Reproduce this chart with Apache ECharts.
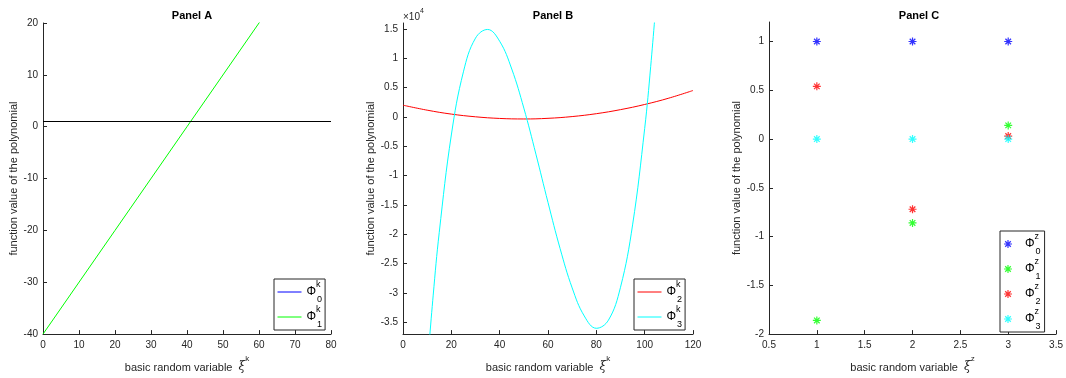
<!DOCTYPE html>
<html>
<head>
<meta charset="utf-8">
<script src="https://cdn.jsdelivr.net/npm/echarts@6/dist/echarts.min.js"></script>
<style>
html,body{margin:0;padding:0;background:#fff;}
#chart{width:1066px;height:378px;}
</style>
</head>
<body>
<div id="chart"></div>
<script>
// ---------- Data ----------
// Panel A
const xiA = [0, 20, 40, 60, 80];
const phi0A = [1, 1, 1, 1, 1];
const phi1A = [-40, -20, 0, 20, 40];
// Panel B
const xiB2 = [0, 10, 20, 30, 40, 50, 60, 70, 80, 90, 100, 110, 120];
const phi2B = [2000, 1150, 480, 20, -260, -350, -240, 60, 550, 1240, 2120, 3200, 4500];
const xiB3 = [10, 12.5, 15, 20, 25, 30, 35, 40, 45, 50, 55, 60, 65, 70, 75, 80, 85, 90, 95, 100, 102.5, 105];
const phi3B = [-42800, -30360, -19660, -3080, 7680, 13420, 14900, 12890, 8160, 1500, -6340, -14570, -22420, -29130, -33910, -36010, -34630, -29020, -18400, -1990, 8625, 20970];
const yTicksB = [-35000, -30000, -25000, -20000, -15000, -10000, -5000, 0, 5000, 10000, 15000];
// Panel C
const xiC = [1, 2, 3];
const phi0C = [1, 1, 1];
const phi1C = [-1.86, -0.86, 0.14];
const phi2C = [0.54, -0.72, 0.03];
const phi3C = [0, 0, 0];
const yTicksC = [-2, -1.5, -1, -0.5, 0, 0.5, 1];

const titles = ['Panel A', 'Panel B', 'Panel C'];
const yName = 'function value of the polynomial';

// ---------- Styling helpers ----------
const TXT = '#262626';
const FONT = 'Liberation Sans, Arial, sans-serif';
const pairs = (xs, ys) => xs.map((x, i) => [x, ys[i]]);
const ASTER = 'path://M0,8.5L20,8.5L20,11.5L0,11.5Z M8.5,0L11.5,0L11.5,20L8.5,20Z M1.9,4.1L4.1,1.9L18.1,15.9L15.9,18.1Z M15.9,1.9L18.1,4.1L4.1,18.1L1.9,15.9Z';

const nameRich = {
  t: {fontSize: 11, fontFamily: FONT, color: TXT, lineHeight: 18, verticalAlign: 'bottom'},
  x: {fontSize: 12, fontFamily: 'DejaVu Serif, serif', fontStyle: 'italic', color: TXT, lineHeight: 18, verticalAlign: 'bottom'},
  s: {fontSize: 8, fontFamily: FONT, color: TXT, lineHeight: 10, verticalAlign: 'top'}
};
const legRich = {
  p: {fontSize: 12, fontFamily: FONT, color: '#000', lineHeight: 24, verticalAlign: 'middle'},
  u: {fontSize: 9, fontFamily: FONT, color: '#000', lineHeight: 13, verticalAlign: 'top', width: 1},
  d: {fontSize: 9, fontFamily: FONT, color: '#000', lineHeight: 13, verticalAlign: 'bottom'}
};

function mkX(gi, min, max, interval, sup) {
  return {
    type: 'value', gridIndex: gi, min: min, max: max, interval: interval,
    name: '{t|basic random variable  }{x|ξ}{s|' + sup + '}',
    nameLocation: 'middle', nameGap: 20,
    nameTextStyle: {rich: nameRich},
    axisLine: {show: true, onZero: false, lineStyle: {color: TXT, width: 1}},
    axisTick: {show: true, inside: true, length: 4, lineStyle: {color: TXT}},
    axisLabel: {color: TXT, fontSize: 10, fontFamily: FONT, margin: 6},
    splitLine: {show: false}
  };
}
function mkY(gi, min, max, extra, gap) {
  const base = {
    type: 'value', gridIndex: gi, min: min, max: max,
    name: yName, nameLocation: 'middle', nameGap: gap,
    nameTextStyle: {color: TXT, fontSize: 11, fontFamily: FONT},
    axisLine: {show: true, onZero: false, lineStyle: {color: TXT, width: 1}},
    axisTick: {show: true, inside: true, length: 4, lineStyle: {color: TXT}},
    axisLabel: {color: TXT, fontSize: 10, fontFamily: FONT, margin: 5},
    splitLine: {show: false}
  };
  Object.keys(extra).forEach(k => {
    const v = extra[k];
    base[k] = (v && typeof v === 'object') ? Object.assign({}, base[k] || {}, v) : v;
  });
  return base;
}

const legendNames = {
  A0: ['0', 'k'], A1: ['1', 'k'], B2: ['2', 'k'], B3: ['3', 'k'],
  C0: ['0', 'z'], C1: ['1', 'z'], C2: ['2', 'z'], C3: ['3', 'z']
};
const legFmt = n => '{p|Φ}{u|' + legendNames[n][1] + '}{d|' + legendNames[n][0] + '}';

function mkLegend(names, left, top, icon, iw, ih, pad, hideSymbol) {
  const lg = {
    orient: 'vertical', left: left, top: top,
    data: names.map(n => icon ? {name: n, icon: icon} : {name: n}),
    itemWidth: iw, itemHeight: ih, itemGap: 1,
    padding: pad,
    lineStyle: {width: 1},
    backgroundColor: '#fff', borderColor: TXT, borderWidth: 1, borderRadius: 0,
    formatter: legFmt,
    textStyle: {rich: legRich},
    selectedMode: false
  };
  if (hideSymbol) lg.itemStyle = {opacity: 0};
  return lg;
}

const chart = echarts.init(document.getElementById('chart'), null, {renderer: 'canvas'});
const option = {
  animation: false,
  backgroundColor: '#fff',
  title: titles.map((t, i) => ({
    text: t, left: [187, 548, 914][i], top: 5, textAlign: 'center',
    textStyle: {fontSize: 11, fontWeight: 'bold', fontFamily: FONT, color: '#000'}
  })),
  grid: [
    {left: 43, top: 23, width: 288, height: 318},
    {left: 403, top: 23, width: 290, height: 318},
    {left: 769, top: 22, width: 289, height: 319}
  ],
  xAxis: [
    mkX(0, 0, 80, 10, 'k'),
    mkX(1, 0, 120, 20, 'k'),
    mkX(2, 0.5, 3.5, 0.5, 'z')
  ],
  yAxis: [
    mkY(0, -40, 20, {interval: 10}, 23),
    mkY(1, -37000, 16000, {
      axisTick: {customValues: yTicksB},
      axisLabel: {customValues: yTicksB, formatter: v => String(v / 1e4)}
    }, 25),
    mkY(2, -2, 1.2, {
      axisTick: {customValues: yTicksC},
      axisLabel: {customValues: yTicksC}
    }, 25)
  ],
  legend: [
    mkLegend(['A0', 'A1'], 274, 279, null, 24, 2, [1, 3, 1, 3], true),
    mkLegend(['B2', 'B3'], 634, 279, null, 24, 2, [1, 3, 1, 3], true),
    mkLegend(['C0', 'C1', 'C2', 'C3'], 1000, 231, ASTER, 24, 8, [1, 4, 1, 4], false)
  ],
  graphic: [{
    type: 'text', left: 403, top: 8, silent: true,
    style: {
      text: '{a|×10}{b|4}',
      rich: {
        a: {fontSize: 10, fontFamily: FONT, fill: TXT, lineHeight: 14, verticalAlign: 'bottom'},
        b: {fontSize: 7, fontFamily: FONT, fill: TXT, lineHeight: 8, verticalAlign: 'top'}
      }
    }
  }],
  series: [
    {name: 'A0', type: 'line', xAxisIndex: 0, yAxisIndex: 0, data: pairs(xiA, phi0A), symbol: 'none',
      lineStyle: {color: '#0000ff', width: 1}, itemStyle: {color: '#0000ff'},
      markLine: {silent: true, symbol: 'none', label: {show: false}, animation: false,
        lineStyle: {color: '#000', width: 1, type: 'solid'}, data: [{yAxis: 1}]}},
    {name: 'A1', type: 'line', xAxisIndex: 0, yAxisIndex: 0, data: pairs(xiA, phi1A), symbol: 'none',
      lineStyle: {color: '#00ff00', width: 1}, itemStyle: {color: '#00ff00'}},
    {name: 'B2', type: 'line', xAxisIndex: 1, yAxisIndex: 1, data: pairs(xiB2, phi2B), symbol: 'none', smooth: 0.4,
      lineStyle: {color: '#ff0000', width: 1}, itemStyle: {color: '#ff0000'}},
    {name: 'B3', type: 'line', xAxisIndex: 1, yAxisIndex: 1, data: pairs(xiB3, phi3B), symbol: 'none', smooth: 0.4,
      lineStyle: {color: '#00ffff', width: 1}, itemStyle: {color: '#00ffff'}},
    {name: 'C0', type: 'scatter', xAxisIndex: 2, yAxisIndex: 2, data: pairs(xiC, phi0C), symbol: ASTER, symbolSize: 8,
      itemStyle: {color: '#0000ff'}},
    {name: 'C1', type: 'scatter', xAxisIndex: 2, yAxisIndex: 2, data: pairs(xiC, phi1C), symbol: ASTER, symbolSize: 8,
      itemStyle: {color: '#00ff00'}},
    {name: 'C2', type: 'scatter', xAxisIndex: 2, yAxisIndex: 2, data: pairs(xiC, phi2C), symbol: ASTER, symbolSize: 8,
      itemStyle: {color: '#ff0000'}},
    {name: 'C3', type: 'scatter', xAxisIndex: 2, yAxisIndex: 2, data: pairs(xiC, phi3C), symbol: ASTER, symbolSize: 8,
      itemStyle: {color: '#00ffff'}}
  ]
};
chart.setOption(option);
</script>
</body>
</html>
